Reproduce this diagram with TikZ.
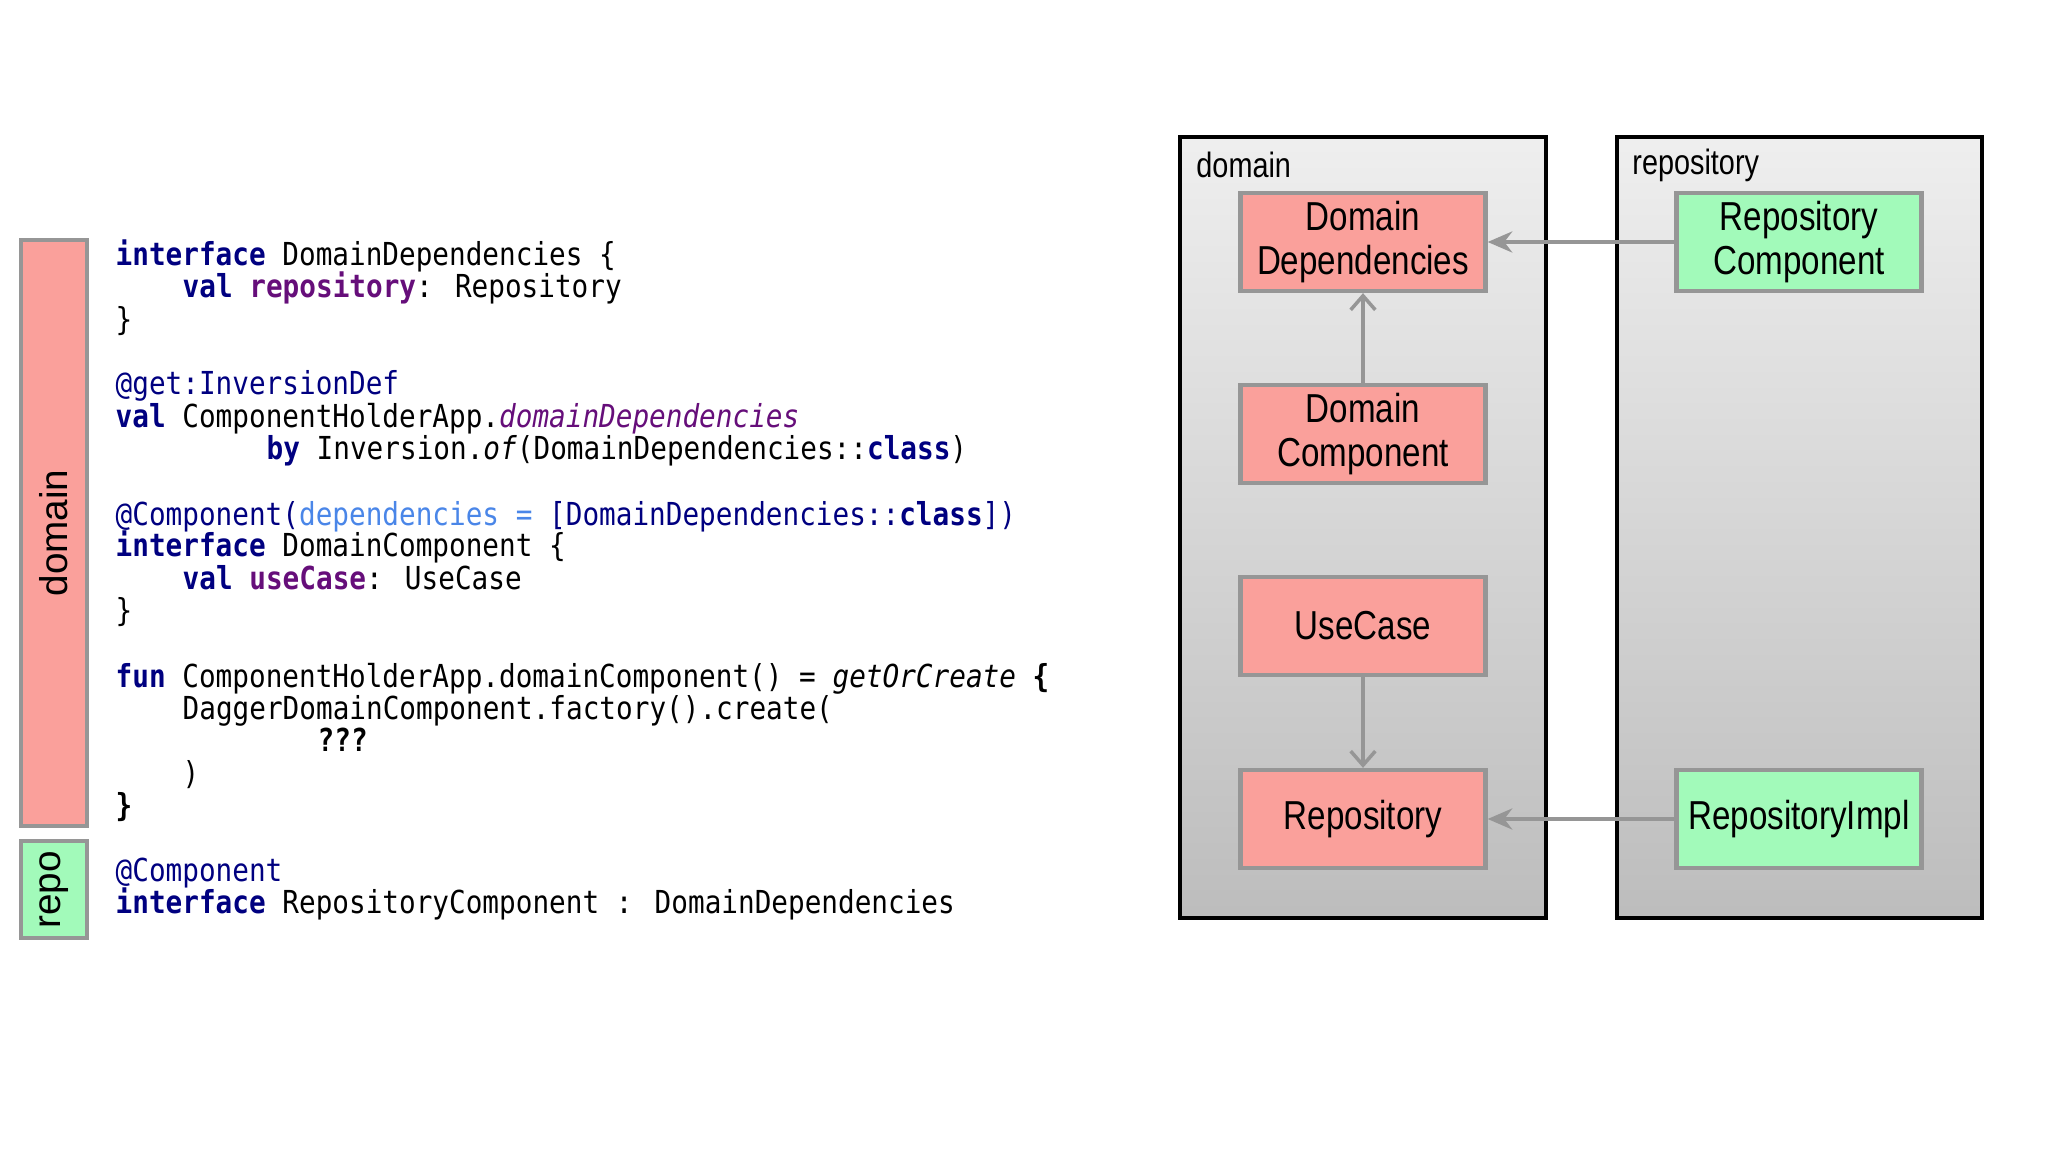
\documentclass[tikz,border=0pt]{standalone}
\usepackage{fontspec}
\usetikzlibrary{arrows.meta}
\setmainfont{Liberation Sans}
\newfontfamily\codefont{DejaVu Sans Mono}[FakeStretch=0.875]
\newfontfamily\boxfont{Liberation Sans}[FakeStretch=0.82]
\definecolor{kw}{RGB}{0,0,128}
\definecolor{prop}{RGB}{102,14,122}
\definecolor{param}{RGB}{74,134,232}
\definecolor{redfill}{RGB}{250,160,155}
\definecolor{greenfill}{RGB}{162,250,186}
\definecolor{edge}{RGB}{150,150,150}
\newcommand{\kw}[1]{\textcolor{kw}{\bfseries #1}}
\newcommand{\pr}[1]{\textcolor{prop}{\bfseries #1}}
\begin{document}
\begin{tikzpicture}[x=0.01cm,y=-0.01cm,
  code/.style={anchor=base west,inner sep=0pt,font=\codefont\fontsize{9}{10}\selectfont},
  comp/.style={draw=edge,line width=1.2pt,minimum width=2.45cm,minimum height=0.98cm,align=center,
    font=\boxfont\fontsize{11.5}{12.5}\selectfont,inner sep=0pt},
  red/.style={comp,fill=redfill},
  green/.style={comp,fill=greenfill},
  pkg/.style={draw=black,line width=1.3pt,top color=gray!13,bottom color=gray!52},
  bar/.style={draw=edge,line width=1.2pt},
  link/.style={draw=edge,line width=1pt}]
\useasboundingbox (0,0) rectangle (2048,1152);
% left bars
\draw[bar,fill=redfill] (21,240) rectangle (87,826);
\node[rotate=90,font=\fontsize{11}{12}\selectfont] (bd) at (54,533) {domain};
\draw[bar,fill=greenfill] (21,841) rectangle (87,938);
\node[rotate=90,font=\fontsize{11}{12}\selectfont] (br) at (54,890) {repo};
% code
\node[code] (c0)  at (115,266) {\kw{interface} DomainDependencies \{};
\node[code] (c1)  at (182,298) {\kw{val} \pr{repository}: Repository};
\node[code] (c2)  at (115,331) {\}};
\node[code] (c4)  at (115,395) {\textcolor{kw}{@get:InversionDef}};
\node[code] (c5)  at (115,428) {\kw{val} ComponentHolderApp.\textcolor{prop}{\itshape domainDependencies}};
\node[code] (c6)  at (266,460) {\kw{by} Inversion.\textit{of}(DomainDependencies::\kw{class})};
\node[code] (c8)  at (115,525) {\textcolor{kw}{@Component(}\textcolor{param}{dependencies = }\textcolor{kw}{[DomainDependencies::\textbf{class}])}};
\node[code] (c9)  at (115,557) {\kw{interface} DomainComponent \{};
\node[code] (c10) at (182,590) {\kw{val} \pr{useCase}: UseCase};
\node[code] (c11) at (115,622) {\}};
\node[code] (c13) at (115,687) {\kw{fun} ComponentHolderApp.domainComponent() = \textit{getOrCreate} \textbf{\{}};
\node[code] (c14) at (182,719) {DaggerDomainComponent.factory().create(};
\node[code] (c15) at (317,751) {\textbf{???}};
\node[code] (c16) at (182,784) {)};
\node[code] (c17) at (115,816) {\textbf{\}}};
\node[code] (c19) at (115,881) {\textcolor{kw}{@Component}};
\node[code] (c20) at (115,913) {\kw{interface} RepositoryComponent : DomainDependencies};
% packages
\draw[pkg] (1180,137) rectangle (1546,918);
\draw[pkg] (1617,137) rectangle (1982,918);
\node[anchor=west,font=\boxfont\fontsize{10}{11}\selectfont] (ld) at (1184,165) {domain};
\node[anchor=west,font=\boxfont\fontsize{10}{11}\selectfont] (lr) at (1620,165) {repository};
% components
\node[red] (dd) at (1363,242) {Domain\\Dependencies};
\node[red] (dc) at (1363,434) {Domain\\Component};
\node[red] (uc) at (1363,626) {UseCase};
\node[red] (re) at (1363,819) {Repository};
\node[green] (rc) at (1799,242) {Repository\\Component};
\node[green] (ri) at (1799,819) {RepositoryImpl};
% links
\draw[link,-{Stealth[length=7pt,width=6pt]}] (rc) -- (dd);
\draw[link,-{Straight Barb[length=4pt,width=7pt]}] (dc) -- (dd);
\draw[link,-{Straight Barb[length=4pt,width=7pt]}] (uc) -- (re);
\draw[link,-{Stealth[length=7pt,width=6pt]}] (ri) -- (re);
\end{tikzpicture}
\end{document}
